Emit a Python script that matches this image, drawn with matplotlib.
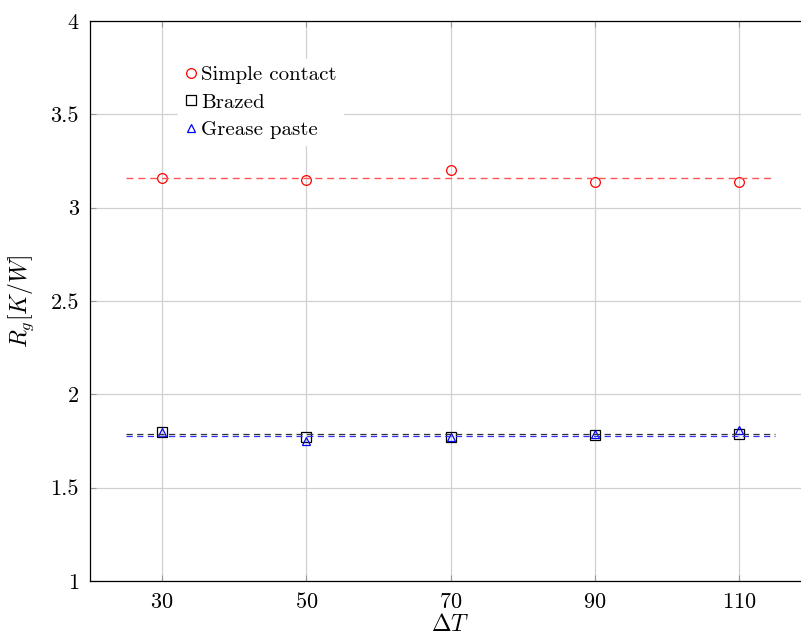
import matplotlib
matplotlib.use('Agg')
import matplotlib.pyplot as plt

plt.rcParams['mathtext.fontset'] = 'cm'
plt.rcParams['font.family'] = ['cmr10', 'DejaVu Serif']
plt.rcParams['axes.formatter.use_mathtext'] = True

# measured points
delta_t = [30, 50, 70, 90, 110]
simple_contact = [3.16, 3.15, 3.20, 3.14, 3.14]
brazed = [1.80, 1.77, 1.77, 1.78, 1.79]
grease = [1.80, 1.75, 1.77, 1.79, 1.81]
# fitted constant levels
fit_x = [25, 115]
simple_fit = 3.16
brazed_fit = 1.79
grease_fit = 1.778

W, H = 801, 637
fig = plt.figure(figsize=(W / 100, H / 100), dpi=100)
ax = fig.add_axes([90 / W, (H - 581) / H, 721 / W, 560 / H])

ax.plot(delta_t, simple_contact, 'o', mfc='none', mec='red', ms=7, mew=0.9, label='Simple contact')
ax.plot(delta_t, brazed, 's', mfc='none', mec='black', ms=7, mew=0.9, label='Brazed')
ax.plot(delta_t, grease, '^', mfc='none', mec='blue', ms=6, mew=0.9, label='Grease paste')

ax.plot(fit_x, [simple_fit] * 2, color='#ff5555', lw=1.0, dashes=(5, 3.5))
ax.plot(fit_x, [grease_fit] * 2, color='#3333ff', lw=0.9, dashes=(5, 3.5))
ax.plot(fit_x, [brazed_fit] * 2, color='#333333', lw=0.9, dashes=(5, 3.5))

ax.set_xlim(20, 120)
ax.set_ylim(1, 4)
ax.set_xticks(delta_t)
ax.set_yticks([1, 1.5, 2, 2.5, 3, 3.5, 4])
ax.set_yticklabels(['1', '1.5', '2', '2.5', '3', '3.5', '4'])
ax.grid(True, color='#d0d0d0', lw=0.9)
ax.set_axisbelow(True)
ax.tick_params(direction='in', length=4, color='#999999', labelsize=16, pad=8)
ax.tick_params(axis='x', top=True)
ax.tick_params(axis='y', right=False)
for s in ax.spines.values():
    s.set_linewidth(0.9)
ax.spines['right'].set_visible(False)

ax.set_xlabel(r'$\Delta T$', fontsize=17, labelpad=1)
ax.set_ylabel(r'$R_g[K/W]$', fontsize=17, labelpad=10)

leg = ax.legend(loc='upper left', bbox_to_anchor=(0.108, 0.95), frameon=True, fontsize=15,
                handlelength=0.6, handletextpad=0.2, borderpad=0.3, labelspacing=0.42,
                fancybox=False, edgecolor='white', framealpha=1)

fig.savefig('out.png', dpi=100)
